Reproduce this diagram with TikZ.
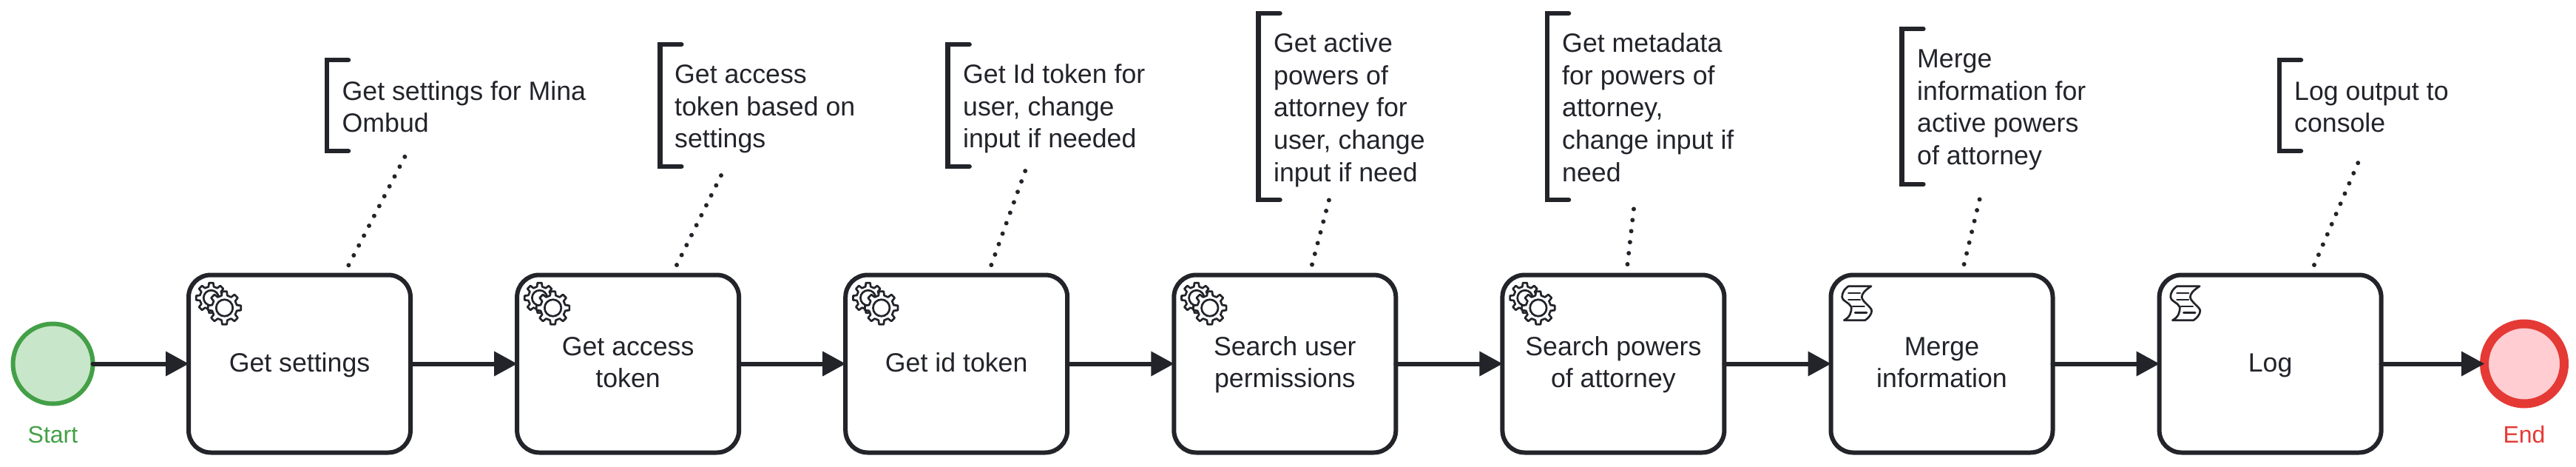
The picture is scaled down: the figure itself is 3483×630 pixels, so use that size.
\documentclass[tikz,border=0pt]{standalone}
\usepackage{fontspec}
\setmainfont{Liberation Sans}
\usetikzlibrary{arrows.meta}
\definecolor{ink}{HTML}{22242A}
\definecolor{startline}{HTML}{43A047}
\definecolor{startfill}{HTML}{C8E6C9}
\definecolor{endline}{HTML}{E53935}
\definecolor{endfill}{HTML}{FFCDD2}
\newcommand{\tstr}{\rule[-10pt]{0pt}{41pt}}
\newcommand{\nstr}{\rule{0pt}{30pt}}
\tikzset{
  taskbox/.style={draw=ink,line width=6pt,rounded corners=30pt,minimum width=300pt,minimum height=240pt,inner sep=0pt,outer sep=0pt,fill=white,text=ink,font=\fontsize{35.7}{43.6}\selectfont,align=center},
  startev/.style={circle,draw=startline,fill=startfill,line width=6pt,minimum size=108pt,inner sep=0pt,outer sep=0pt},
  endev/.style={circle,draw=endline,fill=endfill,line width=12pt,minimum size=108pt,inner sep=0pt,outer sep=0pt},
  evlabel/.style={font=\fontsize{32}{38}\selectfont,inner sep=0pt,anchor=base},
  flow/.style={draw=ink,line width=6pt,line cap=round,-{Triangle[length=31pt,width=34pt,line width=0pt]}},
  notetext/.style={anchor=north west,inner sep=0pt,text=ink,font=\fontsize{35.7}{43.6}\selectfont,align=left},
  notebracket/.style={draw=ink,line width=6.5pt,line cap=round,line join=miter},
  assoc/.style={draw=ink,line width=6pt,line cap=round,dash pattern=on 0pt off 15pt},
  iconline/.style={draw=ink,line width=2.7pt,line join=round,line cap=round}
}
\newcommand{\onegear}[3]{% cx cy outer radius
  \draw[iconline,fill=white,shift={(#1,#2)}]
    (-8:#3) \foreach \a in {0,45,...,315}{ -- (\a-8:#3) -- (\a+8:#3) -- (\a+13:#3*0.76) -- (\a+32:#3*0.76) } -- cycle;
  \draw[iconline,shift={(#1,#2)}] (0,0) circle[radius=#3*0.5];
}
\newcommand{\gearicon}[1]{%
  \begin{scope}[shift={(#1.center)}]
    \onegear{-119.5}{-89}{20.5}
    \onegear{-101.5}{-75.5}{22.5}
  \end{scope}}
\newcommand{\scripticon}[1]{%
  \begin{scope}[shift={(#1.center)}]
    \draw[iconline] (-126.2,-104.8) -- (-95.5,-104.8)
      .. controls (-105.5,-98.2) and (-108.2,-94) .. (-108.2,-89.8)
      .. controls (-107.2,-83.2) and (-94.8,-76.5) .. (-94.8,-71.5)
      .. controls (-94.8,-66.5) and (-100,-61) .. (-103.8,-58.8)
      -- (-132.2,-58.8)
      .. controls (-123.8,-63.2) and (-122.2,-70) .. (-122.2,-76.5)
      .. controls (-125.5,-83.2) and (-134.8,-84.8) .. (-134.8,-89.8)
      .. controls (-134.8,-98.2) and (-130,-102) .. (-126.2,-104.8) -- cycle;
    \draw[iconline] (-126.2,-95.5) -- (-110.5,-95.5);
    \draw[iconline] (-126.2,-86.5) -- (-110.5,-86.5);
    \draw[iconline] (-120.5,-77.5) -- (-104.8,-77.5);
    \draw[iconline] (-117.2,-69.2) -- (-101.5,-69.2);
  \end{scope}}
\newcommand{\notemark}[3]{% x top bottom
  \draw[notebracket] (#1+29,#2) -- (#1,#2) -- (#1,#3) -- (#1+29,#3);
}
\begin{document}
\begin{tikzpicture}[x=1pt,y=-1pt]
\useasboundingbox (0,0) rectangle (3483,630);
\fill[white] (0,0) rectangle (3483,630);

% associations
\coordinate (a1n) at (547.4,211.7);  \coordinate (a1t) at (471.4,358.3);
\coordinate (a2n) at (975,237);      \coordinate (a2t) at (915,358);
\coordinate (a3n) at (1386.2,231);   \coordinate (a3t) at (1340.3,358);
\coordinate (a4n) at (1797,270);     \coordinate (a4t) at (1774,357.5);
\coordinate (a5n) at (2209,282);     \coordinate (a5t) at (2200.5,357);
\coordinate (a6n) at (2680,255);     \coordinate (a6t) at (2655.6,357);
\coordinate (a7n) at (3194,206.7);   \coordinate (a7t) at (3129,358);
\foreach \i in {1,...,7}{ \draw[assoc] (a\i t) -- (a\i n); }

% events and tasks
\node[startev] (start) at (71.5,491.5) {};
\node[evlabel,text=startline] (startlabel) at (71.5,598) {Start};
\node[taskbox] (t1) at (405,491.5) {\raisebox{-1.5pt}{\tstr Get settings}};
\node[taskbox] (t2) at (849.1,491.5) {\tstr Get access\\\tstr token};
\node[taskbox] (t3) at (1293.2,491.5) {\raisebox{-1.5pt}{\tstr Get id token}};
\node[taskbox] (t4) at (1737.3,491.5) {\tstr Search user\\\tstr permissions};
\node[taskbox] (t5) at (2181.4,491.5) {\tstr Search powers\\\tstr of attorney};
\node[taskbox] (t6) at (2625.5,491.5) {\tstr Merge\\\tstr information};
\node[taskbox] (t7) at (3069.6,491.5) {\raisebox{-1.5pt}{\tstr Log}};
\node[endev] (end) at (3413,491.5) {};
\node[evlabel,text=endline] (endlabel) at (3413,598) {End};

% flows
\draw[flow] (start) -- (t1);
\draw[flow] (t1) -- (t2);
\draw[flow] (t2) -- (t3);
\draw[flow] (t3) -- (t4);
\draw[flow] (t4) -- (t5);
\draw[flow] (t5) -- (t6);
\draw[flow] (t6) -- (t7);
\draw[flow] (t7) -- (end.west);

% icons
\gearicon{t1}\gearicon{t2}\gearicon{t3}\gearicon{t4}\gearicon{t5}
\scripticon{t6}\scripticon{t7}

% annotations
\notemark{442}{81}{204}
\node[notetext] (n1) at (462.5,105) {\nstr Get settings for Mina\\Ombud};
\notemark{892.3}{60}{225}
\node[notetext] (n2) at (912,82.5) {\nstr Get access\\token based on\\settings};
\notemark{1281.6}{60}{225}
\node[notetext] (n3) at (1302,82.5) {\nstr Get Id token for\\user, change\\input if needed};
\notemark{1701.5}{18}{270}
\node[notetext] (n4) at (1722,40.5) {\nstr Get active\\powers of\\attorney for\\user, change\\input if need};
\notemark{2092}{18}{270}
\node[notetext] (n5) at (2112,40.5) {\nstr Get metadata\\for powers of\\attorney,\\change input if\\need};
\notemark{2571.4}{39}{249}
\node[notetext] (n6) at (2592,61.5) {\nstr Merge\\information for\\active powers\\of attorney};
\notemark{3082}{81}{204}
\node[notetext] (n7) at (3102,105) {\nstr Log output to\\console};
\end{tikzpicture}
\end{document}
